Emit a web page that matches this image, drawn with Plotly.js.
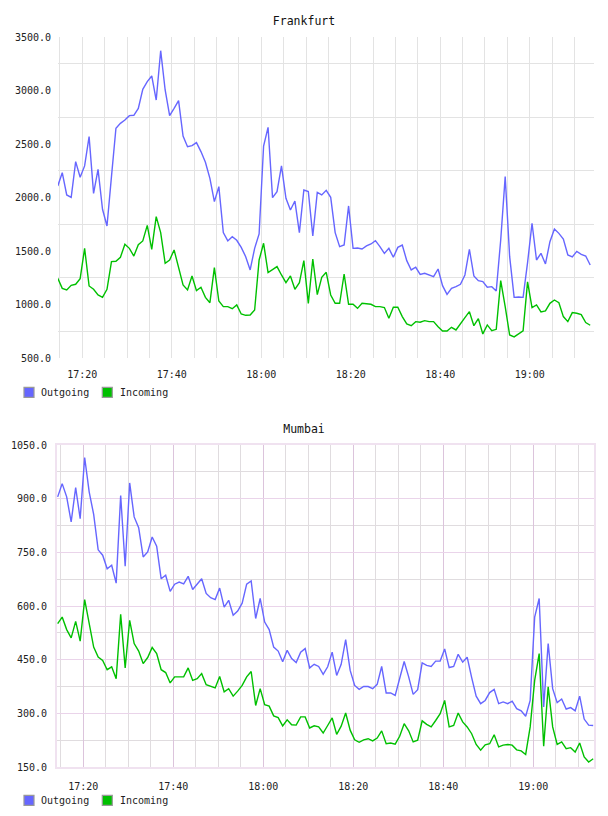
<!DOCTYPE html>
<html>
<head>
<meta charset="utf-8">
<script src="https://cdn.plot.ly/plotly-3.0.1.min.js"></script>
<style>
  html, body { margin: 0; padding: 0; background: #fff; }
  #frankfurt { position: absolute; left: 0; top: 0; width: 608px; height: 408px; }
  #mumbai { position: absolute; left: 0; top: 408px; width: 608px; height: 408px; }
</style>
</head>
<body>
<div id="frankfurt"></div>
<div id="mumbai"></div>
<script>
// ---- Data (one sample per minute) ----
const chartTitles = ["Frankfurt", "Mumbai"];
const seriesNames = ["Outgoing", "Incoming"];
const yTickFormat = ".1f";

const frankfurtStart = "2013-01-01 17:14:31";
const mumbaiStart = "2013-01-01 17:14:18";

const frankfurtOutgoing = [
  2108, 2232, 2024, 2002, 2335, 2189, 2295, 2569, 2039, 2263,
  1890, 1734, 2195, 2647, 2693, 2724, 2765, 2768, 2833, 3011,
  3083, 3136, 2911, 3372, 3005, 2765, 2833, 2905, 2575, 2475,
  2485, 2513, 2429, 2329, 2179, 1961, 2101, 1672, 1594, 1634,
  1600, 1534, 1447, 1323, 1525, 1659, 2481, 2656, 1999, 2055,
  2295, 1992, 1883, 1967, 1672, 2070, 2055, 1640, 2048, 2024,
  2067, 2002, 1672, 1541, 1556, 1921, 1525, 1528, 1519, 1547,
  1566, 1597, 1541, 1478, 1525, 1441, 1534, 1556, 1410, 1323,
  1348, 1282, 1292, 1279, 1260, 1332, 1176, 1095, 1151, 1167,
  1189, 1276, 1516, 1267, 1223, 1214, 1161, 1167, 1126, 1603,
  2195, 1447, 1067, 1070, 1067, 1391, 1759, 1416, 1478, 1379,
  1587, 1706, 1665, 1612, 1463, 1444, 1497, 1469, 1453, 1369
];
const frankfurtIncoming = [
  1245, 1151, 1136, 1179, 1189, 1242, 1525, 1173, 1142, 1089,
  1067, 1142, 1401, 1404, 1441, 1563, 1525, 1453, 1559, 1594,
  1740, 1516, 1821, 1672, 1385, 1416, 1510, 1354, 1182, 1136,
  1267, 1130, 1161, 1067, 1017, 1344, 1033, 980, 980, 961,
  996, 911, 899, 902, 949, 1416, 1572, 1298, 1323, 1354,
  1276, 1204, 1267, 1142, 1204, 1410, 1011, 1425, 1092, 1254,
  1301, 1089, 1011, 1011, 1285, 1002, 1002, 964, 1011, 1005,
  1002, 980, 980, 971, 871, 974, 974, 887, 818, 802,
  840, 834, 849, 840, 840, 793, 753, 753, 787, 762,
  824, 877, 933, 802, 868, 725, 809, 756, 768, 1223,
  980, 715, 697, 725, 753, 1211, 971, 996, 930, 940,
  1011, 1042, 1017, 887, 840, 924, 918, 905, 831, 806
];
const mumbaiOutgoing = [
  905, 942, 905, 835, 931, 844, 1015, 919, 856, 757,
  742, 704, 714, 664, 909, 711, 944, 849, 819, 737,
  751, 793, 767, 676, 686, 641, 661, 667, 662, 683,
  646, 662, 676, 635, 623, 618, 650, 597, 616, 574,
  586, 608, 661, 670, 565, 621, 555, 534, 485, 474,
  444, 476, 453, 442, 471, 481, 427, 437, 431, 409,
  430, 471, 406, 437, 506, 420, 378, 367, 375, 375,
  369, 381, 431, 357, 357, 350, 394, 445, 402, 353,
  366, 441, 434, 431, 446, 446, 480, 428, 431, 465,
  443, 457, 400, 348, 327, 336, 358, 367, 327, 332,
  327, 334, 313, 307, 292, 336, 569, 621, 318, 495,
  369, 330, 340, 312, 316, 307, 348, 284, 267, 266
];
const mumbaiIncoming = [
  551, 569, 534, 511, 557, 502, 618, 555, 485, 457,
  448, 422, 430, 397, 577, 427, 560, 495, 474, 439,
  456, 484, 467, 422, 414, 385, 402, 402, 402, 427,
  392, 397, 411, 380, 375, 371, 403, 360, 369, 348,
  362, 378, 402, 417, 322, 369, 324, 320, 293, 288,
  265, 282, 268, 267, 290, 290, 259, 265, 262, 245,
  266, 287, 241, 264, 301, 253, 226, 219, 226, 229,
  223, 231, 251, 215, 217, 214, 236, 271, 251, 220,
  225, 279, 269, 262, 280, 299, 336, 262, 266, 301,
  276, 262, 243, 213, 197, 212, 215, 240, 206, 211,
  213, 211, 198, 195, 185, 262, 392, 467, 208, 374,
  262, 213, 220, 201, 204, 192, 217, 178, 164, 173
];

// ---- helpers ----
function makeTimes(start, n) {
  const base = Date.parse(start.replace(" ", "T") + "Z");
  const out = [];
  for (let i = 0; i < n; i++) {
    out.push(new Date(base + i * 60000).toISOString().replace("T", " ").slice(0, 19));
  }
  return out;
}

const BLUE = "#6666ff";
const GREEN = "#00c000";
const FONT = "DejaVu Sans Mono, monospace";
const W = 608, H = 408;

function legendItems(m, plotH) {
  // manual legend: small squares + labels placed in pixel space
  const pw = W - m.l - m.r;
  const px = v => (v - m.l) / pw;
  const py = v => (m.t + plotH - v) / plotH;
  const items = [
    { name: seriesNames[0], color: BLUE, x0: 24, tx: 38.5 },
    { name: seriesNames[1], color: GREEN, x0: 102.3, tx: 117.5 }
  ];
  const shapes = [], annotations = [];
  items.forEach(it => {
    shapes.push({
      type: "rect", xref: "paper", yref: "paper",
      x0: px(it.x0), x1: px(it.x0 + 10), y0: py(397.3), y1: py(387.3),
      fillcolor: it.color, line: { color: "#999999", width: 1.2 }, layer: "above"
    });
    annotations.push({
      xref: "paper", yref: "paper", x: px(it.tx), y: py(392.5),
      xanchor: "left", yanchor: "middle", showarrow: false,
      text: it.name, font: { family: FONT, size: 10, color: "#222" }
    });
  });
  return { shapes, annotations };
}

function makeChart(div, title, start, outg, inc, opts) {
  const t = makeTimes(start, outg.length);
  const m = opts.margin;
  const plotH = H - m.t - m.b;
  const leg = legendItems(m, plotH);
  const traces = [
    { x: t, y: outg, name: seriesNames[0], type: "scatter", mode: "lines",
      line: { color: BLUE, width: 1.4 }, showlegend: false, hoverinfo: "skip" },
    { x: t, y: inc, name: seriesNames[1], type: "scatter", mode: "lines",
      line: { color: GREEN, width: 1.4 }, showlegend: false, hoverinfo: "skip" }
  ];
  const layout = {
    width: W, height: H,
    margin: m,
    paper_bgcolor: "#ffffff", plot_bgcolor: "#ffffff",
    showlegend: false,
    title: {
      text: title, x: 0.5, xanchor: "center",
      y: 1 - opts.titleY / H, yanchor: "middle",
      font: { family: FONT, size: 11.5, color: "#111" }
    },
    xaxis: {
      type: "date", range: opts.xrange,
      tick0: "2013-01-01 17:00:00", dtick: 1200000, tickformat: "%H:%M",
      ticks: "", ticklabelstandoff: 9,
      tickfont: { family: FONT, size: 10, color: "#222" },
      showgrid: true, gridcolor: opts.majorX, gridwidth: 1,
      minor: { tick0: "2013-01-01 17:00:00", dtick: 300000, showgrid: true,
               gridcolor: opts.minorGrid, gridwidth: 1 },
      zeroline: false,
      showline: opts.border, linecolor: opts.borderColor, linewidth: 2, mirror: opts.border
    },
    yaxis: {
      range: opts.yrange, tick0: 0, dtick: opts.ydtick, tickformat: yTickFormat,
      ticks: "", ticklabelstandoff: 6,
      tickfont: { family: FONT, size: 10, color: "#222" },
      showgrid: opts.majorY !== null, gridcolor: opts.majorY || "#fff", gridwidth: 1,
      minor: { tick0: opts.ydtick / 2, dtick: opts.ydtick, showgrid: true,
               gridcolor: opts.minorGrid, gridwidth: 1 },
      zeroline: false,
      showline: opts.border, linecolor: opts.borderColor, linewidth: 2, mirror: opts.border
    },
    shapes: leg.shapes,
    annotations: leg.annotations
  };
  Plotly.newPlot(div, traces, layout, { staticPlot: true, displayModeBar: false });
}

makeChart("frankfurt", chartTitles[0], frankfurtStart, frankfurtOutgoing, frankfurtIncoming, {
  margin: { l: 58, r: 14, t: 37, b: 50 },
  titleY: 20.5,
  xrange: ["2013-01-01 17:14:34", "2013-01-01 19:14:22"],
  yrange: [500, 3500], ydtick: 500,
  majorX: "#e3e3e3", majorY: null, minorGrid: "#e3e3e3",
  border: false, borderColor: "#fff"
});

makeChart("mumbai", chartTitles[1], mumbaiStart, mumbaiOutgoing, mumbaiIncoming, {
  margin: { l: 57, r: 14, t: 37, b: 49 },
  titleY: 21,
  xrange: ["2013-01-01 17:14:09", "2013-01-01 19:13:29"],
  yrange: [150, 1050], ydtick: 150,
  majorX: "#dcc4dc", majorY: "#ead4ea", minorGrid: "#e0dcdf",
  border: true, borderColor: "#f0e2f0"
});
</script>
</body>
</html>
